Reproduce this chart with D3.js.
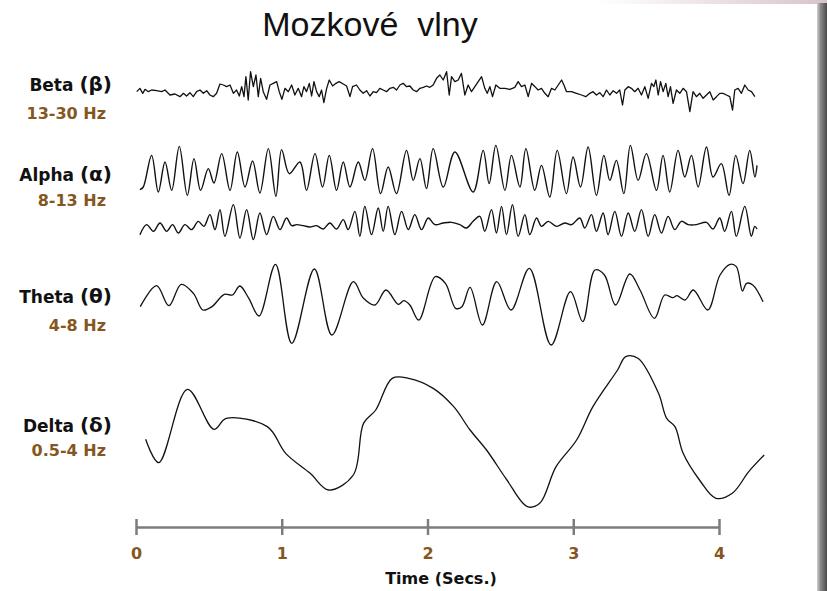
<!DOCTYPE html>
<html>
<head>
<meta charset="utf-8">
<script src="https://cdn.jsdelivr.net/npm/d3@7"></script>
<style>
  body { margin: 0; background: #fff; }
  svg { display: block; }
</style>
</head>
<body>
<div id="chart"></div>
<script>
// DATA: time in ms, amplitude in arbitrary units
var betaT = [5,27,46,62,85,107,142,176,199,233,267,302,325,347,370,393,416,439,462,485,507,530,553,576,599,622,645,668,690,709,725,741,754,770,786,805,823,839,855,873,896,919,942,965,983,1001,1022,1045,1068,1090,1113,1136,1152,1170,1189,1205,1221,1239,1257,1273,1289,1308,1326,1349,1372,1394,1422,1445,1468,1486,1513,1536,1559,1582,1605,1628,1650,1673,1696,1719,1742,1765,1788,1811,1833,1856,1879,1902,1925,1948,1971,1993,2016,2039,2062,2085,2108,2131,2149,2165,2188,2211,
  2233,2256,2279,2302,2325,2348,2371,2393,2410,2428,2446,2469,2496,2531,2565,2599,2622,2645,2668,2691,2714,2737,2759,2782,2805,2828,2851,2874,2897,2920,2936,2954,2988,3022,3057,3086,3114,3136,3159,3182,3205,3228,3251,3274,3297,3319,3338,3354,3377,3399,3422,3445,3468,3491,3514,3537,3553,3567,3583,3599,3617,3635,3651,3667,3685,3708,3731,3754,3777,3800,3822,3845,3868,3891,3914,3937,3960,3983,4005,4028,4051,4074,4093,4108,4131,4154,4177,4200,4223,4246];
var betaV = [-5,5,-10,2,-5,0,-2,-5,0,-15,-12,-20,-10,-18,-8,-20,-5,0,-10,-2,-15,-20,-10,18,15,10,15,-10,0,-18,10,-20,40,-30,55,10,45,-20,35,-5,-28,15,20,25,-5,-28,5,-5,15,-15,5,-20,10,-5,20,-18,25,-5,-20,0,-38,5,30,12,20,25,18,12,-20,10,15,0,-10,-2,-18,-5,-8,5,0,-5,5,8,0,15,20,10,12,0,-5,5,8,12,8,15,35,45,30,55,-15,40,25,30,
  50,-15,15,-5,10,25,40,5,-10,10,-20,15,5,5,2,8,25,10,15,-20,20,10,0,5,-10,-20,5,0,15,30,15,-5,-5,-10,-15,-20,-10,-5,-15,-8,-20,0,-15,-2,-10,0,-45,0,10,5,-5,5,-15,10,-25,20,10,30,-15,25,-5,20,-20,10,-40,0,-10,5,-5,-65,-5,-20,-10,-25,-15,-5,-30,-20,-10,-10,-15,-20,-60,0,5,-10,15,0,-5,-20];

var alpha1T = [27,50,107,153,199,245,297,352,398,443,496,535,588,645,695,748,800,850,908,960,999,1052,1125,1170,1228,1280,1326,1376,1422,1468,1525,1570,1623,1678,1730,1787,1856,1902,1948,1993,2039,2108,2188,
  2313,2382,2423,2469,2531,2576,2634,2675,2736,2782,2839,2890,2953,2999,3050,3102,3159,3210,3251,3296,3347,3392,3445,3502,3571,3616,3662,3719,3765,3811,3857,3914,3959,4016,4069,4115,4165,4211,4246,4261];
var alpha1V = [-53,-45,50,-60,30,-55,77,-70,40,-55,10,-33,55,-55,60,-45,33,-63,70,-73,67,-5,30,-55,55,-45,50,-55,30,-45,30,-25,70,-65,15,-65,65,-25,40,-50,70,-45,60,
  -60,65,-35,80,-55,50,-45,70,-55,20,-75,65,-65,45,-45,75,-70,50,-25,35,-65,80,-25,55,-55,50,-60,65,-15,50,-45,75,-15,25,-70,50,-35,65,-15,20];

var alpha2T = [27,73,119,165,210,251,290,336,382,427,466,507,542,576,610,668,713,759,805,850,896,942,988,1033,1068,1102,1148,1193,1239,1285,1330,1376,1422,1456,1502,1536,1570,1616,1662,1696,1730,1776,1822,1868,1913,1959,2005,2051,2108,2165,
  2222,2268,2313,2359,2393,2439,2473,2508,2542,2583,2622,2668,2702,2748,2782,2828,2885,2942,2988,3045,3079,3125,3159,3205,3239,3285,3331,3377,3422,3468,3514,3559,3605,3651,3696,3742,3788,3845,3914,3959,4005,4039,4085,4119,4177,4222,4245,4261];
var alpha2V = [-35,-5,-25,0,-25,-5,-30,-5,-20,5,-10,25,-20,40,-40,55,-45,40,-50,30,-35,20,-20,15,-8,-5,-8,-12,-8,-18,0,-18,10,-20,35,-40,50,-35,45,-25,50,-35,35,-20,25,-20,15,-5,0,2,
  -5,-15,5,20,-25,40,-30,50,-35,55,-40,25,-35,15,-10,5,-10,0,-5,15,-15,25,-25,30,-35,35,-40,30,-25,40,-40,25,-30,20,-20,5,-5,-5,2,-18,15,-25,35,-40,50,-40,-10,-18];

var thetaT = [29,141,226,310,394,459,521,606,662,712,774,844,957,1069,1224,1344,1491,1561,1640,1715,1800,1837,1879,1940,2053,2123,2193,2236,2292,2377,2475,2573,2699,2848,2981,3065,3149,3214,3290,3388,3458,3557,3627,3683,3711,3767,3824,3923,4007,4077,4119,4161,4189,4232,4302];
var thetaV = [-20,43,-17,47,20,-30,-20,17,15,42,5,-48,107,-130,93,-105,55,5,-15,30,-13,-2,-15,-60,70,50,-25,-20,38,-75,55,-30,95,-135,25,-65,90,75,-15,78,30,-55,15,7,13,0,30,-30,75,107,100,27,50,45,-5];

var deltaT = [66,156,353,535,619,901,1027,1195,1322,1491,1561,1645,1758,1870,2039,2180,2292,2405,2545,2685,2770,2882,3023,3135,3304,3360,3444,3585,3641,3698,3754,3866,3979,4091,4204,4310];
var deltaV = [-28,-98,122,2,35,10,-70,-130,-180,-135,20,60,155,155,125,70,0,-60,-150,-230,-220,-110,-30,70,180,220,215,110,35,10,-70,-150,-205,-190,-125,-75];

var waveNames = ["Beta", "Alpha", "Theta", "Delta"];
var waveSymbols = ["\u03b2", "\u03b1", "\u03b8", "\u03b4"];
var waveBands = ["13-30 Hz", "8-13 Hz", "4-8 Hz", "0.5-4 Hz"];
var timeTicks = [0, 1, 2, 3, 4];

// SETUP
var width = 827, height = 591;
var brown = "#85571f";
var labelFont = "'Century Gothic', 'DejaVu Sans', sans-serif";

var svg = d3.select("#chart").append("svg")
  .attr("width", width)
  .attr("height", height);

var defs = svg.append("defs");
var edge = defs.append("linearGradient").attr("id", "edge");
edge.append("stop").attr("offset", "0%").attr("stop-color", "#d0d0d0");
edge.append("stop").attr("offset", "35%").attr("stop-color", "#8a8a8a");
edge.append("stop").attr("offset", "100%").attr("stop-color", "#4a4a4a");
var topEdge = defs.append("linearGradient").attr("id", "topEdge");
topEdge.append("stop").attr("offset", "0%").attr("stop-color", "#fff");
topEdge.append("stop").attr("offset", "100%").attr("stop-color", "#d8c4c8");

// frame decoration on the right / top
svg.append("rect").attr("x", 600).attr("y", 0).attr("width", 227).attr("height", 4).attr("fill", "url(#topEdge)");
svg.append("rect").attr("x", 817).attr("y", 3).attr("width", 10).attr("height", height - 3).attr("fill", "url(#edge)");

// title
svg.append("text")
  .attr("x", 370).attr("y", 36)
  .attr("text-anchor", "middle")
  .style("white-space", "pre")
  .style("font-family", "'Liberation Sans', Arial, sans-serif")
  .style("font-size", "34px")
  .attr("fill", "#111")
  .text("Mozkov\u00e9  vlny");

// SCALES
var x = d3.scaleLinear().domain([0, 4]).range([136, 719]);

// each trace has its own band; same gain for all
var channels = [
  { t: betaT, v: betaV, mid: 90, curve: d3.curveLinear, w: 1.3 },
  { t: alpha1T, v: alpha1V, mid: 172, curve: d3.curveCatmullRom, w: 1.4 },
  { t: alpha2T, v: alpha2V, mid: 223, curve: d3.curveCatmullRom, w: 1.4 },
  { t: thetaT, v: thetaV, mid: 300, curve: d3.curveCatmullRom, w: 1.3 },
  { t: deltaT, v: deltaV, mid: 430, curve: d3.curveCatmullRom, w: 1.3 }
];

var data_layer = svg.append("g").classed("data", true);

channels.forEach(function(ch) {
  var y = d3.scaleLinear().domain([-300, 300]).range([ch.mid + 100, ch.mid - 100]);
  var line = d3.line()
    .x(function(d) { return x(d[0] / 1000); })
    .y(function(d) { return y(d[1]); })
    .curve(ch.curve);
  data_layer.append("path")
    .datum(d3.zip(ch.t, ch.v))
    .attr("fill", "none")
    .attr("stroke", "#111")
    .attr("stroke-width", ch.w)
    .attr("stroke-linejoin", "round")
    .attr("d", line);
});

// LABELS
var nameY = [91, 181, 303, 432],
    bandY = [119, 206, 331, 456];

var labels = svg.append("g").style("font-family", labelFont).style("font-weight", "bold");
var names = labels.selectAll("text.name")
  .data(waveNames).enter()
  .append("text").attr("class", "name")
  .attr("x", 112).attr("y", function(d, i) { return nameY[i]; })
  .attr("text-anchor", "end")
  .style("font-size", "17px")
  .attr("fill", "#111");
names.append("tspan").text(function(d) { return d + " "; });
names.append("tspan").style("font-size", "20px")
  .text(function(d, i) { return "(" + waveSymbols[i] + ")"; });

labels.selectAll("text.band")
  .data(waveBands).enter()
  .append("text").attr("class", "band")
  .attr("x", 106).attr("y", function(d, i) { return bandY[i]; })
  .attr("text-anchor", "end")
  .style("font-size", "16px")
  .attr("fill", brown)
  .text(function(d) { return d; });

// AXIS
var axis = d3.axisBottom(x)
  .tickValues(timeTicks)
  .tickFormat(d3.format("d"))
  .tickSize(8)
  .tickSizeOuter(0);

var gAxis = svg.append("g")
  .attr("transform", "translate(0,527)")
  .call(axis);

gAxis.select(".domain").attr("stroke", "#7d7d7d").attr("stroke-width", 2.5);
gAxis.selectAll(".tick line")
  .attr("y1", -8).attr("y2", 8)
  .attr("stroke", "#7d7d7d").attr("stroke-width", 2.5);
gAxis.selectAll(".tick text")
  .attr("y", 21).attr("dy", "0.71em")
  .attr("fill", brown)
  .style("font-family", labelFont)
  .style("font-weight", "bold")
  .style("font-size", "16px");

svg.append("text")
  .attr("x", 441).attr("y", 584)
  .attr("text-anchor", "middle")
  .style("font-family", labelFont)
  .style("font-weight", "bold")
  .style("font-size", "16px")
  .attr("fill", "#111")
  .text("Time (Secs.)");
</script>
</body>
</html>
